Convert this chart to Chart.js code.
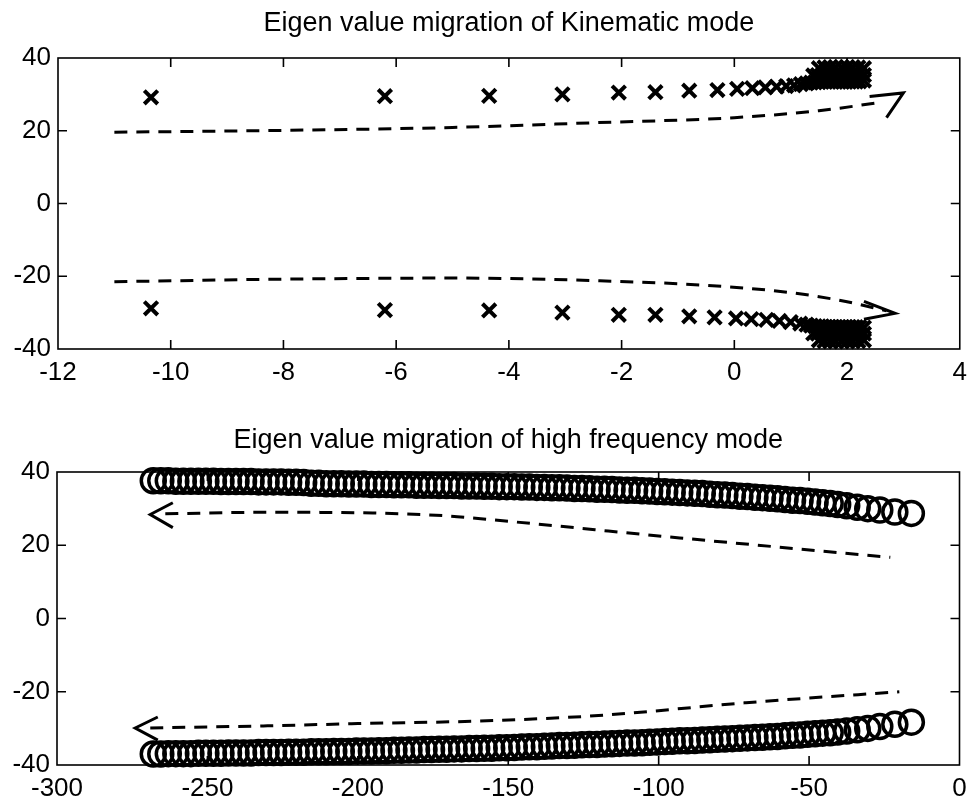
<!DOCTYPE html>
<html>
<head>
<meta charset="utf-8">
<script src="https://cdn.jsdelivr.net/npm/chart.js"></script>
<style>
  body { margin: 0; background: #fff; }
  #wrap1 { position: absolute; left: 0; top: 0; width: 975px; height: 400px; }
  #wrap2 { position: absolute; left: 0; top: 414px; width: 975px; height: 388px; }
</style>
</head>
<body>
<div id="wrap1"><canvas id="kinematic"></canvas></div>
<div id="wrap2"><canvas id="highFreq"></canvas></div>
<script>
// kinematic mode eigenvalues (real part, imaginary part)
var kinUpperRe = [-10.35, -6.2, -4.35, -3.05, -2.05, -1.4, -0.8, -0.3, 0.05, 0.32, 0.55, 0.75, 0.92, 1.06, 1.18, 1.28,
    1.36, 1.43, 1.5, 1.56, 1.62, 1.68, 1.74, 1.8, 1.86, 1.92, 1.98, 2.04, 2.1, 2.16, 2.22, 2.3,
    1.4, 1.48, 1.56, 1.64, 1.72, 1.8, 1.88, 1.96, 2.04, 2.12, 2.2, 2.3,
    1.5, 1.6, 1.7, 1.8, 1.9, 2.0, 2.1, 2.2, 2.3];
var kinUpperIm = [29.2, 29.5, 29.6, 30.0, 30.5, 30.6, 31.0, 31.2, 31.5, 31.7, 31.9, 32.1, 32.3, 32.5, 32.8, 33.0,
    33.2, 33.3, 33.4, 33.5, 33.5, 33.5, 33.5, 33.5, 33.5, 33.5, 33.5, 33.5, 33.5, 33.5, 33.6, 33.8,
    35.2, 35.3, 35.3, 35.4, 35.4, 35.4, 35.4, 35.4, 35.4, 35.4, 35.4, 35.3,
    37.2, 37.4, 37.5, 37.5, 37.5, 37.5, 37.5, 37.4, 37.2];
var kinLowerRe = [-10.35, -6.2, -4.35, -3.05, -2.05, -1.4, -0.8, -0.35, 0.03, 0.3, 0.57, 0.8, 1.0, 1.17, 1.28,
    1.36, 1.43, 1.5, 1.56, 1.62, 1.68, 1.74, 1.8, 1.86, 1.92, 1.98, 2.04, 2.1, 2.16, 2.22, 2.3,
    1.4, 1.48, 1.56, 1.64, 1.72, 1.8, 1.88, 1.96, 2.04, 2.12, 2.2, 2.3,
    1.5, 1.6, 1.7, 1.8, 1.9, 2.0, 2.1, 2.2, 2.3];
var kinLowerIm = [-28.8, -29.3, -29.4, -30.0, -30.6, -30.6, -31.0, -31.3, -31.6, -31.8, -32.0, -32.3, -32.6, -33.0, -33.3,
    -33.6, -33.7, -33.8, -33.8, -33.9, -33.9, -33.9, -34.0, -34.0, -34.0, -34.0, -34.0, -34.0, -34.0, -34.0, -34.1,
    -35.7, -35.8, -35.8, -35.9, -35.9, -35.9, -35.9, -35.9, -35.9, -35.9, -35.8, -35.8,
    -37.6, -37.8, -37.9, -37.9, -37.9, -37.9, -37.9, -37.8, -37.6];

// hand drawn migration arrows, kinematic plot
var kinArrowUpX = [-11, -8, -5, -2.5, 0, 1.5, 2.6];
var kinArrowUpY = [19.6, 20.1, 20.9, 22.2, 23.6, 25.5, 27.8];
var kinHeadUpX = [2.4, 3.0, 2.7];
var kinHeadUpY = [29.4, 30.4, 23.6];
var kinArrowLowX = [-11, -8, -5, -2.5, -0.5, 1, 2, 2.7];
var kinArrowLowY = [-21.5, -20.8, -20.5, -21.2, -22.5, -24.5, -27.0, -29.5];
var kinHeadLowX = [2.3, 2.85, 2.3];
var kinHeadLowY = [-26.9, -30.2, -31.8];

// high frequency mode eigenvalues
var hfRe = [-268, -265.5, -263, -260.5, -258, -255.5, -253, -250.5, -248, -245.5,
    -243, -240.5, -238, -235.5, -233, -230.5, -228, -225.5, -223, -220.5,
    -218, -215.5, -213, -210.5, -208, -205.5, -203, -200.5, -198, -195.5,
    -193, -190.5, -188, -185.5, -183, -180.5, -178, -175.5, -173, -170.5,
    -168, -165.5, -163, -160.5, -158, -155.5, -153, -150.5, -148, -145.5,
    -143, -140.5, -138, -135.5, -133, -130.5, -128, -125.5, -123, -120.5,
    -118, -115.5, -113, -110.5, -108, -105.5, -103, -100.5, -98, -95.5,
    -93, -90.5, -88, -85.5, -83, -80.5, -78, -75.5, -73, -70.5,
    -68, -65.5, -63, -60.5, -58, -55.5, -53, -50.5, -48, -45.5,
    -43, -40.5, -37.5, -34, -30.5, -26.5, -21.5, -16];
var hfUpperIm = [37.6, 37.6, 37.6, 37.5, 37.5, 37.5, 37.5, 37.5, 37.5, 37.4,
    37.4, 37.4, 37.4, 37.4, 37.3, 37.3, 37.3, 37.3, 37.2, 37.2,
    37.1, 36.9, 36.9, 36.8, 36.8, 36.8, 36.7, 36.7, 36.7, 36.6,
    36.6, 36.6, 36.5, 36.5, 36.5, 36.4, 36.4, 36.4, 36.3, 36.3,
    36.3, 36.2, 36.2, 36.2, 36.1, 36.1, 36.0, 36.0, 36.0, 35.9,
    35.9, 35.8, 35.8, 35.7, 35.7, 35.6, 35.5, 35.5, 35.4, 35.3,
    35.3, 35.2, 35.1, 35.0, 35.0, 34.9, 34.8, 34.7, 34.6, 34.5,
    34.4, 34.3, 34.2, 34.1, 33.9, 33.8, 33.7, 33.6, 33.4, 33.3,
    33.1, 33.0, 32.8, 32.7, 32.5, 32.3, 32.2, 32.0, 31.8, 31.6,
    31.4, 31.1, 30.8, 30.4, 30.0, 29.6, 29.1, 28.7];
var hfLowerIm = [-37.0, -37.0, -36.9, -36.9, -36.9, -36.9, -36.8, -36.8, -36.8, -36.8,
    -36.7, -36.7, -36.7, -36.7, -36.6, -36.6, -36.6, -36.6, -36.5, -36.5,
    -36.5, -36.4, -36.4, -36.4, -36.3, -36.3, -36.3, -36.2, -36.2, -36.2,
    -36.1, -36.1, -36.0, -36.0, -35.9, -35.9, -35.8, -35.8, -35.7, -35.7,
    -35.6, -35.6, -35.5, -35.5, -35.4, -35.4, -35.3, -35.3, -35.2, -35.1,
    -35.0, -35.0, -34.9, -34.8, -34.7, -34.7, -34.6, -34.5, -34.4, -34.4,
    -34.3, -34.2, -34.1, -34.0, -34.0, -33.9, -33.8, -33.7, -33.6, -33.5,
    -33.4, -33.4, -33.3, -33.2, -33.1, -33.0, -32.9, -32.8, -32.7, -32.6,
    -32.5, -32.4, -32.3, -32.2, -32.0, -31.9, -31.8, -31.6, -31.5, -31.3,
    -31.2, -31.0, -30.7, -30.4, -30.0, -29.5, -28.9, -28.3];

// hand drawn migration arrows, high frequency plot
var hfArrowUpX = [-264, -230, -195, -170, -160, -93, -23];
var hfArrowUpY = [28.6, 29.0, 28.8, 28.0, 27.3, 22.0, 16.7];
var hfHeadUpX = [-261.5, -269, -261.5];
var hfHeadUpY = [31.6, 28.4, 24.8];
var hfArrowLowX = [-269, -230, -200, -160, -120, -71, -20];
var hfArrowLowY = [-29.9, -29.3, -28.7, -28.0, -26.5, -23.0, -20.0];
var hfHeadLowX = [-266.5, -274, -266.5];
var hfHeadLowY = [-26.9, -29.9, -33.2];

var kinTicks = [-12, -10, -8, -6, -4, -2, 0, 2, 4];
var hfTicks = [-300, -250, -200, -150, -100, -50, 0];
var imTicks = [-40, -20, 0, 20, 40];

function toPoints(xs, ys) {
    var pts = [];
    for (let i = 0; i < xs.length; i++) {
        pts.push({ x: xs[i], y: ys[i] });
    }
    return pts;
}

function markerSet(xs, ys, style, radius, width) {
    return {
        data: toPoints(xs, ys),
        showLine: false,
        pointStyle: style,
        pointRadius: radius,
        pointBorderWidth: width,
        pointBorderColor: '#000',
        pointBackgroundColor: 'rgba(0,0,0,0)',
        clip: false
    };
}

function dashedSet(xs, ys) {
    return {
        data: toPoints(xs, ys),
        showLine: true,
        borderColor: '#000',
        borderWidth: 3,
        borderDash: [13, 9],
        cubicInterpolationMode: 'monotone',
        pointRadius: 0,
        clip: false
    };
}

function headSet(xs, ys) {
    return {
        data: toPoints(xs, ys),
        showLine: true,
        borderColor: '#000',
        borderWidth: 3,
        tension: 0,
        pointRadius: 0,
        clip: false
    };
}

const fontFamily = '"Liberation Sans", Arial, Helvetica, sans-serif';

// box round the plot area, inward ticks on all four sides, title centred over the box
const boxFrame = {
    id: 'boxFrame',
    afterDraw(chart, args, opts) {
        const ctx = chart.ctx;
        const a = chart.chartArea;
        const xs = chart.scales.x;
        const ys = chart.scales.y;
        const len = 9;
        ctx.save();
        ctx.strokeStyle = '#000';
        ctx.lineWidth = 1.6;
        ctx.strokeRect(a.left, a.top, a.right - a.left, a.bottom - a.top);
        ctx.beginPath();
        opts.xValues.forEach(v => {
            const px = xs.getPixelForValue(v);
            if (px <= a.left + 1 || px >= a.right - 1) return;
            ctx.moveTo(px, a.bottom);
            ctx.lineTo(px, a.bottom - len);
            ctx.moveTo(px, a.top);
            ctx.lineTo(px, a.top + len);
        });
        opts.yValues.forEach(v => {
            const py = ys.getPixelForValue(v);
            if (py <= a.top + 1 || py >= a.bottom - 1) return;
            ctx.moveTo(a.left, py);
            ctx.lineTo(a.left + len, py);
            ctx.moveTo(a.right, py);
            ctx.lineTo(a.right - len, py);
        });
        ctx.stroke();

        ctx.fillStyle = '#000';
        ctx.font = '27px ' + fontFamily;
        ctx.textAlign = 'center';
        ctx.textBaseline = 'middle';
        ctx.fillText(opts.title, (a.left + a.right) / 2, opts.titleY);
        ctx.restore();
    }
};

function makeConfig(title, titleY, datasets, xTicks, leftWidth, bottomHeight) {
    return {
        type: 'scatter',
        data: { datasets: datasets },
        options: {
            responsive: true,
            maintainAspectRatio: false,
            animation: false,
            events: [],
            layout: { padding: { left: 0, right: 13, top: 58, bottom: 0 } },
            plugins: {
                legend: { display: false },
                tooltip: { enabled: false },
                title: { display: false },
                boxFrame: { xValues: xTicks, yValues: imTicks, title: title, titleY: titleY }
            },
            scales: {
                x: {
                    type: 'linear',
                    min: xTicks[0],
                    max: xTicks[xTicks.length - 1],
                    afterBuildTicks: (scale) => { scale.ticks = xTicks.map(v => ({ value: v })); },
                    afterFit: (scale) => { scale.height = bottomHeight; },
                    grid: { display: false, drawTicks: false },
                    border: { display: false },
                    ticks: {
                        color: '#000',
                        padding: 8,
                        maxRotation: 0,
                        font: { family: fontFamily, size: 26 }
                    }
                },
                y: {
                    type: 'linear',
                    min: imTicks[0],
                    max: imTicks[imTicks.length - 1],
                    afterBuildTicks: (scale) => { scale.ticks = imTicks.map(v => ({ value: v })); },
                    afterFit: (scale) => { scale.width = leftWidth; },
                    grid: { display: false, drawTicks: false },
                    border: { display: false },
                    ticks: {
                        color: '#000',
                        padding: 7,
                        font: { family: fontFamily, size: 26 }
                    }
                }
            }
        },
        plugins: [boxFrame]
    };
}

new Chart(document.getElementById('kinematic'), makeConfig(
    'Eigen value migration of Kinematic mode', 24,
    [
        markerSet(kinUpperRe, kinUpperIm, 'crossRot', 9.5, 4),
        markerSet(kinLowerRe, kinLowerIm, 'crossRot', 9.5, 4),
        dashedSet(kinArrowUpX, kinArrowUpY),
        headSet(kinHeadUpX, kinHeadUpY),
        dashedSet(kinArrowLowX, kinArrowLowY),
        headSet(kinHeadLowX, kinHeadLowY)
    ],
    kinTicks, 58, 51
));

new Chart(document.getElementById('highFreq'), makeConfig(
    'Eigen value migration of high frequency mode', 27,
    [
        markerSet(hfRe, hfUpperIm, 'circle', 12, 3.5),
        markerSet(hfRe, hfLowerIm, 'circle', 12, 3.5),
        dashedSet(hfArrowUpX, hfArrowUpY),
        headSet(hfHeadUpX, hfHeadUpY),
        dashedSet(hfArrowLowX, hfArrowLowY),
        headSet(hfHeadLowX, hfHeadLowY)
    ],
    hfTicks, 57, 37
));
</script>
</body>
</html>
